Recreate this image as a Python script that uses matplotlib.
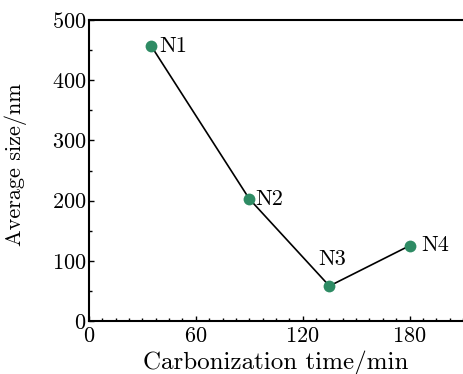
import matplotlib
matplotlib.use("Agg")
import matplotlib.pyplot as plt
from matplotlib.ticker import MultipleLocator

plt.rcParams['font.family'] = 'cmr10'
plt.rcParams['mathtext.fontset'] = 'cm'
plt.rcParams['axes.formatter.use_mathtext'] = True

# data
time_min = [35, 90, 135, 180]
size_nm = [457, 203, 58, 125]
names = ['N1', 'N2', 'N3', 'N4']

fig = plt.figure(figsize=(4.63, 3.74), dpi=100)
ax = fig.add_axes([0.192, 0.142, 0.808, 0.804])

ax.plot(time_min, size_nm, color='black', lw=1.2, zorder=1)
ax.plot(time_min, size_nm, 'o', color='#2e8b64', ms=8.5, mec='none', zorder=2)

# point labels
offsets = {'N1': (5.5, 0, 'left', 'center'),
           'N2': (4.5, 0, 'left', 'center'),
           'N3': (2, 12, 'center', 'bottom'),
           'N4': (8.5, 0, 'left', 'center')}
for x, y, n in zip(time_min, size_nm, names):
    dx, dy, ha, va = offsets[n]
    ax.annotate(n, (x, y), xytext=(dx, dy), textcoords='offset points',
                ha=ha, va=va, fontsize=16)

ax.set_xlim(0, 210)
ax.set_ylim(0, 500)
ax.xaxis.set_major_locator(MultipleLocator(60))
ax.xaxis.set_minor_locator(MultipleLocator(7.5))
ax.yaxis.set_major_locator(MultipleLocator(100))
ax.yaxis.set_minor_locator(MultipleLocator(50))
ax.tick_params(which='both', direction='in', width=1.0, labelsize=16)
ax.tick_params(which='major', length=3.5, pad=2)
ax.tick_params(axis='x', which='major', pad=4)
ax.tick_params(which='minor', length=2.5)
ax.spines['right'].set_visible(False)
for s in ['left', 'bottom', 'top']:
    ax.spines[s].set_linewidth(1.5)

ax.set_xlabel('Carbonization time/min', fontsize=18, labelpad=3)
ax.set_ylabel('Average size/nm', fontsize=16)
ax.yaxis.set_label_coords(-0.166, 0.52)

plt.savefig('out.png', dpi=100)
